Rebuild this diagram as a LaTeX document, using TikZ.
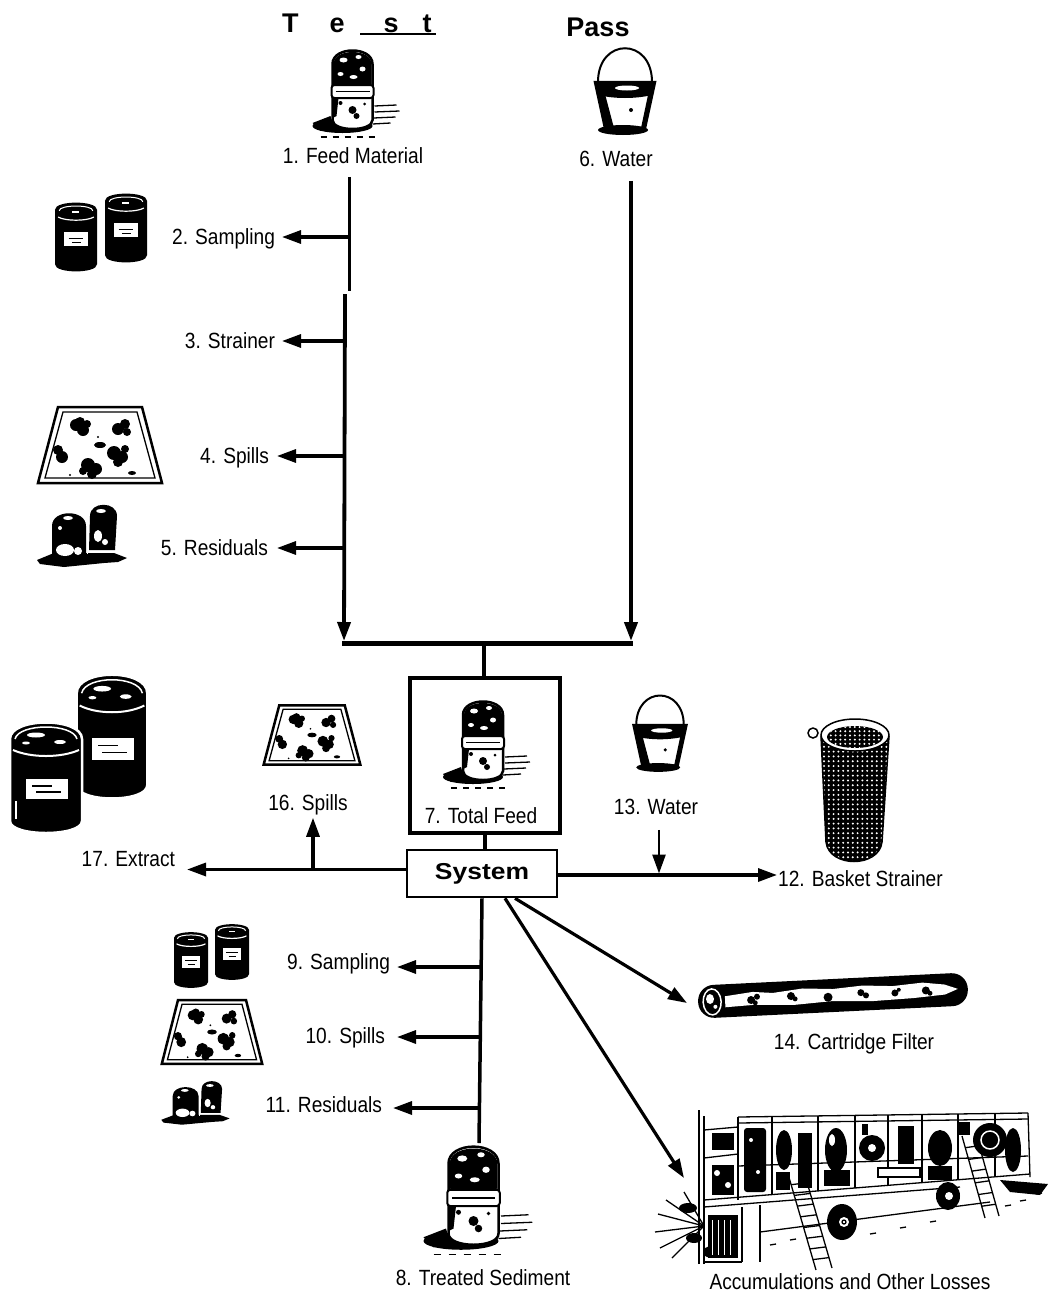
\documentclass[tikz,border=0pt]{standalone}
\usepackage{fontspec}
\setmainfont{Liberation Sans}
\newfontfamily\labfont{Liberation Sans}[FakeStretch=0.87]
\newfontfamily\sysfont{Liberation Sans}[FakeStretch=1.15]
\usetikzlibrary{arrows.meta}
\tikzset{
  lab/.style={font=\labfont\fontsize{22}{26}\selectfont, inner sep=1pt, text height=15.5pt, text depth=0pt},
  ttl/.style={font=\bfseries\fontsize{27}{30}\selectfont, inner sep=0pt},
  ln/.style={line width=3pt},
  arr/.style={line width=3.2pt, -{Triangle[length=19pt,width=13pt]}},
  box/.style={draw, inner sep=0pt},
  feedjar/.pic={
    \fill (-10,36) ellipse [x radius=30, y radius=7];
    \fill (-40,33) -- (-22,26) -- (-18,40) -- (-32,41) -- cycle;
    \foreach \a/\b/\c in {22/16/44, 22/22/47, 21/28/43, 20/34/38}
      \draw[line width=1.3pt] (\a,\b) -- (\c,\b-1);
    \foreach \a in {-32,-20,-8,4,16} \draw[line width=1.2pt] (\a,47) -- (\a+6,47);
    \draw[fill=white, line width=2.5pt] (-20,30) -- (-20,-26) .. controls (-20,-44) and (20,-44) .. (20,-26) -- (20,30) .. controls (20,42) and (-20,42) .. cycle;
    \fill (-19,-6) -- (-19,-26) .. controls (-19,-42) and (19,-42) .. (19,-26) -- (19,-6) .. controls (10,-2) and (-10,-2) .. cycle;
    \fill[white] (-9,-30) ellipse [x radius=4, y radius=2.5];
    \fill[white] (6,-33) ellipse [x radius=3, y radius=2];
    \fill[white] (10,-21) ellipse [x radius=3, y radius=2.5];
    \fill[white] (-12,-16) ellipse [x radius=3, y radius=2];
    \fill[white] (1,-13) ellipse [x radius=4, y radius=2];
    \draw[fill=white, line width=2pt, rounded corners=3pt] (-21,-5) rectangle (21,8);
    \draw[line width=1.5pt] (-17,1.5) -- (17,1.5);
    \fill (-20,8) -- (-14,8) -- (-16,26) -- (-20,28) -- cycle;
    \fill (0,20) circle (4); \fill (4,26) circle (3); \fill (-12,13) circle (2); \fill (12,14) circle (1.5);
  },
  bucket/.pic={
    \draw[line width=2pt] (-27,-10) .. controls (-27,-55) and (27,-55) .. (27,-10);
    \draw[fill=white, line width=2.5pt] (-30,-10) -- (30,-10) -- (20,36) -- (-20,36) -- cycle;
    \fill (-30,-10) -- (30,-10) -- (27,3) .. controls (10,7) and (-10,7) .. (-27,3) -- cycle;
    \fill[white] (2,-4) ellipse [x radius=12, y radius=2.5];
    \fill (-28,0) -- (-20,2) -- (-11,36) -- (-20,36) -- cycle;
    \fill (28,0) -- (23,3) -- (16,36) -- (20,36) -- cycle;
    \fill (6,18) circle (2);
    \fill (-2,38) ellipse [x radius=25, y radius=5];
  },
  can/.pic={
    \fill (-20,-26) -- (-20,26) .. controls (-20,35) and (20,35) .. (20,26) -- (20,-26) .. controls (20,-35) and (-20,-35) .. cycle;
    \draw[white, line width=1pt] (-16,-25) .. controls (-16,-31) and (16,-31) .. (16,-25);
    \draw[white, line width=1.2pt] (-17,-19) .. controls (-10,-15) and (10,-15) .. (17,-19);
    \fill[white] (-11,-5) rectangle (11,9);
    \draw[line width=1pt] (-7,1) -- (7,1) (-4,5) -- (5,5);
    \fill[white] (-4,-25) rectangle (3,-23);
  },
  bigjar/.pic={
    \draw[white, line width=2.5pt, fill=black] (-36,-40) -- (-36,42) .. controls (-36,58) and (36,58) .. (36,42) -- (36,-40) .. controls (36,-62) and (-36,-62) .. cycle;
    \draw[white, line width=1.5pt] (-31,-40) .. controls (-27,-56) and (27,-56) .. (31,-40);
    \draw[white, line width=2pt] (-33,-29) .. controls (-15,-21) and (15,-21) .. (33,-29);
    \fill[white] (-10,-44) ellipse [x radius=9, y radius=2.5];
    \fill[white] (14,-37) ellipse [x radius=6, y radius=2];
    \fill[white] (-20,-36) ellipse [x radius=4, y radius=1.5];
    \fill[white] (-20,0) rectangle (22,20);
    \draw[line width=1.2pt] (-14,7) -- (6,7) (-10,13) -- (15,13);
    \draw[white, line width=1.2pt] (-30,22) -- (-30,40);
  },
  tray/.pic={
    \draw[line width=2.5pt, fill=white] (-42,-38) -- (42,-38) -- (62,38) -- (-62,38) -- cycle;
    \draw[line width=1.3pt] (-37,-33) -- (37,-33) -- (55,33) -- (-55,33) -- cycle;
    \foreach \x/\y/\r in {-24/-20/6, -17/-15/6, -20/-23/5, -13/-21/4,
                         18/-16/6, 25/-21/5, 27/-13/4,
                         -42/5/5, -38/12/6,
                         -12/20/7, -4/24/6, -8/29/5, -17/26/4,
                         14/8/7, 22/12/6, 18/17/5, 25/4/4}
      \fill (\x,\y) circle (\r);
    \fill (0,0) ellipse [x radius=6, y radius=3];
    \fill (32,28) ellipse [x radius=4, y radius=2];
    \fill (-30,30) circle (1.2); \fill (-2,-8) circle (1.2);
  },
  resid/.pic={
    \fill (-47,24) -- (-30,17) -- (30,17) -- (43,22) -- (34,26) -- (20,27) -- (-20,31) -- (-44,28) -- cycle;
    \fill (-32,20) -- (-32,-10) .. controls (-32,-27) and (2,-27) .. (2,-10) -- (2,22) .. controls (-10,28) and (-25,28) .. cycle;
    \fill (5,14) -- (6,-20) .. controls (6,-35) and (33,-35) .. (33,-20) -- (31,14) -- cycle;
    \draw[white, line width=1.2pt] (3.5,-14) -- (3.5,18);
    \fill[white] (-19,14) ellipse [x radius=9, y radius=6];
    \fill[white] (-6,15) ellipse [x radius=4, y radius=4];
    \fill[white] (14,0) ellipse [x radius=4, y radius=6];
    \fill[white] (21,6) circle (3);
    \fill[white] (-24,-8) circle (2);
    \fill[white] (17,-25) ellipse [x radius=5, y radius=2];
    \fill[white] (-16,-18) ellipse [x radius=5, y radius=2];
  }
}
\begin{document}
\begin{tikzpicture}[x=1pt,y=-1pt]
\useasboundingbox[fill=white] (0,0) rectangle (1054,1296);

% ---------- titles
\node[ttl, anchor=base west] (test) at (282,32) {T\hspace{31pt}e\hspace{39pt}s\hspace{24pt}t};
\draw[line width=2.8pt] ([xshift=78pt,yshift=-2pt]test.base west) -- ([xshift=4pt,yshift=-2pt]test.base east);
\node[ttl] (pass) at (598,27) {Pass};

% ---------- top inputs
\pic at (352.5,90) {feedjar};
\pic at (625,92) {bucket};
\node[lab] (l1) at (353,156) {1. Feed Material};
\node[lab] (l6) at (616,159) {6. Water};

% left trunk
\coordinate (tA) at (349,291);
\coordinate (tB) at (345,294);
\coordinate (jL) at (344,641);
\draw[ln, shorten <=12pt] (l1.south -| tA) -- (tA);
\draw[arr, line width=3.8pt] (tB) -- (jL);

% left branches
\coordinate (j2) at (349,237);
\coordinate (j3) at (345,341);
\coordinate (j4) at (344.5,456);
\coordinate (j5) at (344,548);
\node[lab, anchor=east, outer sep=6pt] (l2) at (282,237) {2. Sampling};
\node[lab, anchor=east, outer sep=6pt] (l3) at (282,341) {3. Strainer};
\node[lab, anchor=east, outer sep=7pt] (l4) at (277,456) {4. Spills};
\node[lab, anchor=east, outer sep=8pt] (l5) at (277,548) {5. Residuals};
\draw[arr] (j2) -- (l2.east);
\draw[arr] (j3) -- (l3.east);
\draw[arr] (j4) -- (l4.east);
\draw[arr] (j5) -- (l5.east);

\pic[scale=1.05] at (76,237) {can};
\pic[scale=1.05] at (126,228) {can};
\pic at (100,445) {tray};
\pic at (84,536) {resid};

% right trunk
\coordinate (jR) at (631,641);
\draw[arr, line width=4pt, shorten <=13pt] (l6.south -| jR) -- (jR);

% join
\coordinate (hL) at (342,643);
\coordinate (hR) at (633,643);
\coordinate (jT) at (484,643);
\draw[line width=5pt] (hL) -- (hR);

% ---------- total feed
\node[box, line width=3.5pt, minimum width=150pt, minimum height=155pt] (tf) at (485,755.5) {};
\draw[line width=4pt] (jT) -- (jT |- tf.north);
\pic at (483,741) {feedjar};
\node[lab] (l7) at (481,816) {7. Total Feed};

% ---------- system
\node[box, line width=2.6pt, minimum width=150pt, minimum height=47pt,
      font=\sysfont\bfseries\fontsize{23}{26}\selectfont] (sys) at (482,873.5) {System};
\draw[line width=3.5pt] (tf.south) -- (tf.south |- sys.north);

% extract and spills 16
\node[lab, anchor=east, outer sep=11pt] (l17) at (187,859) {17. Extract};
\draw[arr] ([yshift=4pt]sys.west) -- ([yshift=4pt]sys.west -| l17.east);
\coordinate (j16) at (313,869.5);
\node[lab, outer sep=6pt] (l16) at (308,803) {16. Spills};
\draw[arr] (j16) -- (j16 |- l16.south);
\pic[scale=0.78] at (312,735) {tray};
\pic[xscale=0.98, yscale=1.12] at (112,738) {bigjar};
\pic at (46,779) {bigjar};

% water 13 and basket strainer 12
\node[lab, anchor=west] (l12) at (777,879) {12. Basket Strainer};
\draw[arr] ([yshift=-1.5pt]sys.east) -- ([yshift=-1.5pt]sys.east -| l12.west);
\pic[scale=0.88] at (660,734) {bucket};
\node[lab, outer sep=5pt] (l13) at (656,807) {13. Water};
\coordinate (j13) at (659,873.5);
\draw[arr, line width=2.6pt, shorten <=9pt] (l13.south -| j13) -- (j13);

% basket strainer drawing
\begin{scope}
  \path[clip] (821,736) -- (826,842) .. controls (829,868) and (879,868) .. (882,842) -- (889,736) -- cycle;
  \fill (815,700) rectangle (895,870);
  \foreach \i in {0,...,13} \foreach \j in {0,...,25}
    \fill[white] ({824+\i*4.8},{742+\j*4.8}) circle (1.1);
\end{scope}
\draw[line width=1.5pt] (821,736) -- (826,842) .. controls (829,868) and (879,868) .. (882,842) -- (889,736);
\draw[line width=1.5pt, fill=white] (855,735) ellipse [x radius=34, y radius=16];
\begin{scope}
  \path[clip] (855,737) ellipse [x radius=28, y radius=11];
  \fill (820,720) rectangle (890,750);
  \foreach \i in {0,...,12} \foreach \j in {0,...,5}
    \fill[white] ({826+\i*4.8},{727+\j*4.2}) circle (1.1);
\end{scope}
\draw[line width=1.5pt, fill=white] (813,733) circle (5);

% ---------- lower trunk
\coordinate (tb) at (479,1143);
\draw[line width=3.5pt] (sys.south) -- (tb);
\coordinate (j9) at (481,967);
\coordinate (j10) at (480.5,1037);
\coordinate (j11) at (479.5,1108);
\node[lab, anchor=east, outer sep=6pt] (l9) at (397,962) {9. Sampling};
\node[lab, anchor=east, outer sep=11pt] (l10) at (397,1036) {10. Spills};
\node[lab, anchor=east, outer sep=10pt] (l11) at (393,1105) {11. Residuals};
\draw[arr] (j9) -- (j9 -| l9.east);
\draw[arr] (j10) -- (j10 -| l10.east);
\draw[arr] (j11) -- (j11 -| l11.east);
\pic[scale=0.85] at (191,960) {can};
\pic[scale=0.85] at (232,952) {can};
\pic[xscale=0.81, yscale=0.84] at (212,1032) {tray};
\pic[xscale=0.76, yscale=0.7] at (197,1103) {resid};

\pic[scale=1.25] at (473.5,1196) {feedjar};
\node[lab] (l8) at (483,1278) {8. Treated Sediment};

% ---------- diagonal outputs
\coordinate (cf) at (687,1003);
\coordinate (acc) at (684,1178);
\draw[arr] ([xshift=33pt]sys.south) -- (cf);
\draw[arr] ([xshift=23pt]sys.south) -- (acc);

% cartridge filter
\begin{scope}[shift={(833,996)}, rotate=2.8]
  \fill[rounded corners=16pt] (-135,-17) rectangle (135,16);
  \fill[white] (-108,-5) -- (-80,-8) -- (-60,-6) -- (-30,-9) -- (0,-7) -- (30,-9) -- (60,-7) -- (90,-9) -- (112,-6) -- (125,-1) -- (112,4) -- (80,6) -- (40,7) -- (0,5) -- (-40,7) -- (-80,5) -- (-108,6) -- cycle;
  \foreach \x/\y/\r in {-82/0/4, -76/-3/3, -78/3/2.5, -42/-2/4, -38/1/2.5, -5/1/4.5, 28/-2/3.5, 33/1/3, 62/0/3.5, 66/-3/2, 93/-1/4, 97/2/2.5}
    \fill (\x,\y) circle (\r);
  \draw[white, line width=1.5pt] (-121,0) ellipse [x radius=9, y radius=13];
  \fill[white] (-123,-3) ellipse [x radius=4, y radius=5];
  \fill[white] (-118,5) circle (2);
\end{scope}
\node[lab] (l14) at (854,1042) {14. Cartridge Filter};

% trailer
\begin{scope}[line width=1.3pt]
  \foreach \ex/\ey in {655/1232, 658/1214, 666/1200, 660/1248, 672/1258, 684/1192}
    \draw (704,1226) -- (\ex,\ey);
  \fill (688,1208) ellipse [x radius=9, y radius=5];
  \fill (694,1238) ellipse [x radius=8, y radius=5];
  \fill (712,1252) ellipse [x radius=9, y radius=6];
  \draw (699,1264) -- (699,1110);
  \draw (704,1264) -- (704,1116);
  \draw (704,1130) -- (738,1127);
  \draw (704,1158) -- (738,1154);
  \draw (704,1262) -- (742,1262);
  \draw (742,1207) -- (742,1262);
  \draw (760,1205) -- (760,1262);
  \fill (712,1165) rectangle (734,1195);
  \fill[white] (717,1173) circle (3);
  \fill[white] (728,1185) circle (3);
  \fill (708,1215) rectangle (738,1258);
  \foreach \x in {712,718,724,730} \draw[white, line width=1pt] (\x,1220) -- (\x,1255);
  \fill (712,1133) rectangle (734,1150);
  \draw (738,1117) -- (1028,1113);
  \draw (738,1123) -- (1028,1119);
  \draw (738,1117) -- (738,1200);
  \draw (1028,1113) -- (1030,1177);
  \draw (704,1200) -- (1030,1174);
  \draw (704,1207) -- (960,1187);
  \draw (738,1166) -- (1028,1156);
  \foreach \x/\t/\b in {772/1117/1195, 818/1116/1191, 855/1116/1188, 888/1115/1185, 922/1115/1183, 958/1114/1180, 995/1114/1177}
    \draw (\x,\t) -- (\x,\b);
  \fill[rounded corners=3pt] (744,1128) rectangle (766,1192);
  \fill[white] (751,1140) circle (2);
  \fill[white] (758,1172) circle (2);
  \fill (784,1150) ellipse [x radius=8, y radius=20];
  \fill (798,1133) rectangle (812,1188);
  \fill (836,1150) ellipse [x radius=11, y radius=22];
  \fill[white] (832,1140) ellipse [x radius=3, y radius=6];
  \fill (872,1148) circle (13);
  \fill[white] (872,1148) circle (4);
  \fill (898,1126) rectangle (914,1164);
  \fill (940,1148) ellipse [x radius=12, y radius=18];
  \fill (990,1140) circle (17);
  \draw[white, line width=1.5pt] (990,1140) circle (9);
  \fill (1013,1150) ellipse [x radius=8, y radius=22];
  \fill (776,1172) rectangle (790,1190);
  \fill (824,1170) rectangle (850,1186);
  \fill (928,1166) rectangle (952,1180);
  \fill (862,1124) rectangle (868,1135);
  \fill (958,1122) rectangle (970,1135);
  \draw[fill=white] (878,1168) rectangle (920,1177);
  \draw (760,1232) -- (990,1202);
  \fill (842,1222) ellipse [x radius=15, y radius=18];
  \fill[white] (844,1222) circle (5);
  \draw (844,1222) circle (2);
  \fill (948,1196) ellipse [x radius=12, y radius=14];
  \fill[white] (949,1196) circle (4);
  \draw (788,1174) -- (816,1270);
  \draw (804,1172) -- (832,1268);
  \foreach \i in {1,...,8} \draw ({788+3.1*\i},{1174+10.7*\i}) -- ({804+3.1*\i},{1172+10.7*\i});
  \draw (962,1136) -- (985,1218);
  \draw (976,1134) -- (999,1216);
  \foreach \i in {1,...,6} \draw ({962+3.3*\i},{1136+11.7*\i}) -- ({976+3.3*\i},{1134+11.7*\i});
  \foreach \x/\y in {770/1245, 790/1240, 870/1234, 900/1228, 930/1222, 1005/1206, 1020/1201, 1036/1194}
    \draw (\x,\y) -- ++(6,-1);
  \fill (1000,1180) -- (1048,1184) -- (1040,1195) -- (1010,1192) -- cycle;
\end{scope}
\node[lab] (lacc) at (850,1282) {Accumulations and Other Losses};

\end{tikzpicture}
\end{document}
